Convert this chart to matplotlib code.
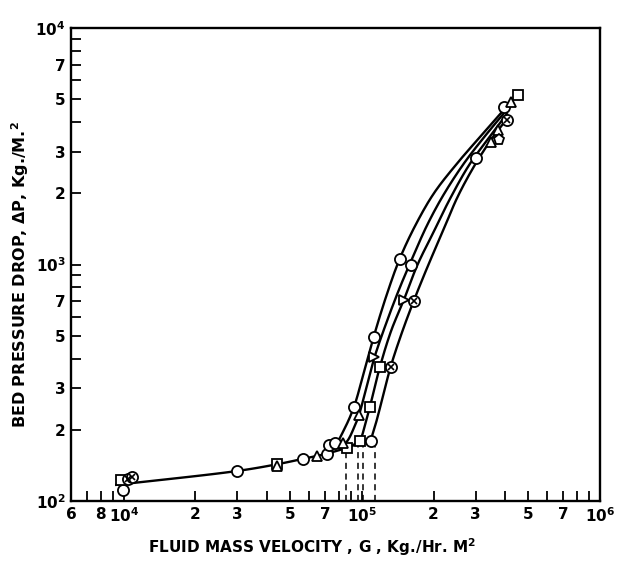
import numpy as np
import matplotlib
matplotlib.use('Agg')
import matplotlib.pyplot as plt
from matplotlib.ticker import FixedLocator, FuncFormatter

plt.rcParams['font.family'] = 'DejaVu Sans'
plt.rcParams['font.weight'] = 'bold'
plt.rcParams['mathtext.fontset'] = 'dejavusans'
plt.rcParams['mathtext.default'] = 'bf'

# common fixed-bed line, then four fluidized branches
base_x = [9.3e3, 3.0e4, 4.4e4, 5.7e4, 7.0e4, 8.66e4, 9.8e4, 1.09e5]
base_y = [117, 134, 143, 151, 158, 168, 176, 180]

c1_x = [6.95e4, 7.64e4, 8.41e4, 9.26e4, 1.02e5, 1.12e5, 1.27e5, 1.44e5, 1.68e5, 2.01e5, 2.54e5, 3.16e5, 3.94e5]
c1_y = [156, 169, 200, 250, 351, 494, 743, 1055, 1469, 2006, 2713, 3495, 4501]
c2_x = [8.10e4, 8.74e4, 9.26e4, 9.72e4, 1.05e5, 1.13e5, 1.27e5, 1.44e5, 1.65e5, 1.88e5, 2.20e5, 2.69e5, 3.29e5, 4.02e5]
c2_y = [166, 181, 204, 231, 309, 406, 571, 795, 1097, 1469, 1968, 2687, 3495, 4457]
c3_x = [9.08e4, 9.81e4, 1.03e5, 1.08e5, 1.19e5, 1.33e5, 1.50e5, 1.71e5, 2.00e5, 2.33e5, 2.82e5, 3.41e5, 4.06e5]
c3_y = [171, 181, 210, 250, 369, 528, 708, 995, 1372, 1874, 2634, 3427, 4329]
c4_x = [1.09e5, 1.14e5, 1.20e5, 1.32e5, 1.47e5, 1.65e5, 1.90e5, 2.20e5, 2.51e5, 2.93e5, 3.48e5, 4.06e5]
c4_y = [181, 210, 255, 369, 513, 701, 995, 1400, 1911, 2559, 3360, 4123]

# minimum fluidization (dashed drop lines)
gmf_x = [8.58e4, 9.62e4, 1.01e5, 1.13e5]
gmf_y = [168, 179, 179, 178]

# data points
circ_x = [9.9e3, 2.99e4, 5.68e4, 7.15e4, 7.29e4, 7.72e4, 1.09e5, 9.26e4, 1.12e5, 1.44e5, 1.60e5, 3.01e5, 3.94e5]
circ_y = [111, 134, 151, 158, 172, 176, 179, 250, 494, 1055, 995, 2820, 4640]
sq_x = [9.72e3, 4.42e4, 8.66e4, 9.82e4, 1.08e5, 1.19e5, 4.51e5]
sq_y = [123, 143, 168, 179, 250, 369, 5210]
tri_x = [4.42e4, 6.49e4, 8.3e4, 9.72e4, 3.48e5, 3.73e5, 4.22e5]
tri_y = [141, 155, 176, 231, 3300, 3700, 4870]
rtri_x = [1.12e5, 1.50e5]
rtri_y = [406, 708]
oxc_x = [1.04e4, 1.08e4, 1.32e5, 1.65e5, 4.06e5]
oxc_y = [124, 126, 369, 701, 4080]
pent_x = [3.76e5]
pent_y = [3360]


def smooth(xs, ys, n=16):
    # centripetal catmull-rom through the points, in log space
    P = np.column_stack([np.log10(xs), np.log10(ys)])
    P = np.vstack([2 * P[0] - P[1], P, 2 * P[-1] - P[-2]])
    out = []
    for i in range(1, len(P) - 2):
        p0, p1, p2, p3 = P[i - 1], P[i], P[i + 1], P[i + 2]
        t0 = 0.0
        t1 = t0 + np.linalg.norm(p1 - p0) ** 0.5
        t2 = t1 + np.linalg.norm(p2 - p1) ** 0.5
        t3 = t2 + np.linalg.norm(p3 - p2) ** 0.5
        t = np.linspace(t1, t2, n, endpoint=False)[:, None]
        a1 = (t1 - t) / (t1 - t0) * p0 + (t - t0) / (t1 - t0) * p1
        a2 = (t2 - t) / (t2 - t1) * p1 + (t - t1) / (t2 - t1) * p2
        a3 = (t3 - t) / (t3 - t2) * p2 + (t - t2) / (t3 - t2) * p3
        b1 = (t2 - t) / (t2 - t0) * a1 + (t - t0) / (t2 - t0) * a2
        b2 = (t3 - t) / (t3 - t1) * a2 + (t - t1) / (t3 - t1) * a3
        out.append((t2 - t) / (t2 - t1) * b1 + (t - t1) / (t2 - t1) * b2)
    out.append(P[-2][None, :])
    out = np.vstack(out)
    return 10 ** out[:, 0], 10 ** out[:, 1]


fig = plt.figure(figsize=(6.17, 5.62), dpi=100)
ax = fig.add_axes([71 / 617, 1 - 501 / 562, 529 / 617, 473 / 562])
ax.set_xscale('log')
ax.set_yscale('log')
ax.set_xlim(6000, 1e6)
ax.set_ylim(100, 1e4)

lw = 1.7
for xs, ys in [(base_x, base_y), (c1_x, c1_y), (c2_x, c2_y), (c3_x, c3_y), (c4_x, c4_y)]:
    sx, sy = smooth(xs, ys)
    ax.plot(sx, sy, color='black', lw=lw, zorder=2)

for gx, gy in zip(gmf_x, gmf_y):
    ax.plot([gx, gx], [100, gy], color='black', lw=1.1, ls=(0, (4, 3)), zorder=1)

mk = dict(ls='none', mfc='white', mec='black', mew=1.3, zorder=3)
ax.plot(circ_x, circ_y, marker='o', ms=8, **mk)
ax.plot(sq_x, sq_y, marker='s', ms=7, **mk)
ax.plot(tri_x, tri_y, marker='^', ms=7.5, **mk)
ax.plot(rtri_x, rtri_y, marker='>', ms=7.5, **mk)
ax.plot(pent_x, pent_y, marker='p', ms=8, **mk)
ax.plot(oxc_x, oxc_y, marker='o', ms=8, **mk)
ax.plot(oxc_x, oxc_y, marker='x', ms=4.5, ls='none', color='black', mew=1.2, zorder=4)

for s in ax.spines.values():
    s.set_linewidth(1.7)

# ticks
x_labels = {6e3: '6', 8e3: '8', 1e4: '$10^{4}$', 2e4: '2', 3e4: '3', 5e4: '5', 7e4: '7',
            1e5: '$10^{5}$', 2e5: '2', 3e5: '3', 5e5: '5', 7e5: '7', 1e6: '$10^{6}$'}
y_labels = {1e2: '$10^{2}$', 2e2: '2', 3e2: '3', 5e2: '5', 7e2: '7',
            1e3: '$10^{3}$', 2e3: '2', 3e3: '3', 5e3: '5', 7e3: '7', 1e4: '$10^{4}$'}


def lab(d):
    def f(v, pos):
        for k, s in d.items():
            if abs(v / k - 1) < 1e-6:
                return s
        return ''
    return FuncFormatter(f)


xmin = [m * 10 ** e for e in (3, 4, 5) for m in range(2, 10) if 6000 <= m * 10 ** e < 1e6]
ymin = [m * 10 ** e for e in (2, 3) for m in range(2, 10)]
ax.xaxis.set_major_locator(FixedLocator([1e4, 1e5, 1e6]))
ax.xaxis.set_minor_locator(FixedLocator(xmin))
ax.yaxis.set_major_locator(FixedLocator([1e2, 1e3, 1e4]))
ax.yaxis.set_minor_locator(FixedLocator(ymin))
ax.xaxis.set_major_formatter(lab(x_labels))
ax.xaxis.set_minor_formatter(lab(x_labels))
ax.yaxis.set_major_formatter(lab(y_labels))
ax.yaxis.set_minor_formatter(lab(y_labels))
ax.tick_params(which='both', direction='in', length=7.5, width=1.3, labelsize=11, pad=4)
ax.tick_params(top=False, right=False)

fig.text(312 / 617, 1 - 547 / 562, 'FLUID MASS VELOCITY , G , Kg./Hr. M$^{2}$',
         ha='center', va='center', fontsize=11, fontweight='bold')
fig.text(20 / 617, 1 - 275 / 562, 'BED PRESSURE DROP, \u0394P, Kg./M.$^{2}$',
         ha='center', va='center', rotation=90, fontsize=11.5, fontweight='bold')

fig.savefig('out.png', dpi=100)
